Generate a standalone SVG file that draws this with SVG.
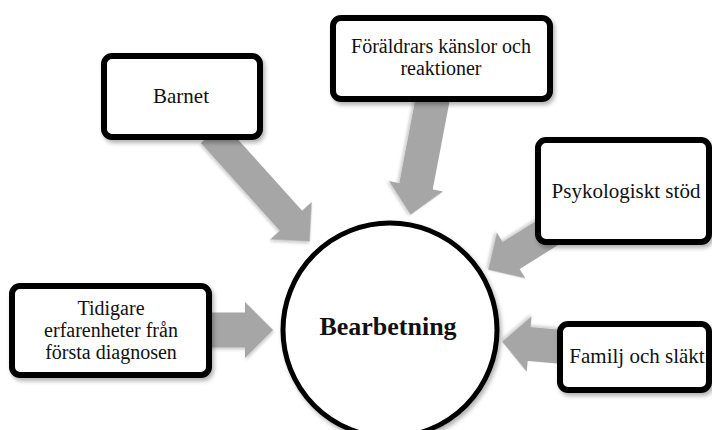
<svg xmlns="http://www.w3.org/2000/svg" width="712" height="430" viewBox="0 0 712 430">
  <style>
    .box { fill: #ffffff; stroke: #000000; stroke-width: 6; filter: url(#shadow); }
    .hub { fill: #ffffff; stroke: #000000; stroke-width: 5; filter: url(#shadow); }
    .arrow { fill: #a6a6a6; stroke: none; filter: url(#soft); }
    .label { font-family: "Liberation Serif", "Times New Roman", serif; font-size: 21px; fill: #111111; text-anchor: middle; }
    .multi { font-size: 20px; }
    .title { font-family: "Liberation Serif", "Times New Roman", serif; font-size: 26px; font-weight: bold; fill: #111111; text-anchor: middle; }
  </style>
  <defs>
    <filter id="shadow" x="-10%" y="-10%" width="125%" height="130%">
      <feDropShadow dx="2" dy="3" stdDeviation="2" flood-color="#000000" flood-opacity="0.3"/>
    </filter>
    <filter id="soft" x="-10%" y="-10%" width="125%" height="130%">
      <feDropShadow dx="1" dy="2" stdDeviation="1.5" flood-color="#000000" flood-opacity="0.2"/>
    </filter>
  </defs>

  <rect width="712" height="430" fill="#ffffff"/>

  <!-- block arrows pointing into the central circle -->
  <g id="connectors">
    <polygon class="arrow" transform="translate(212,133) rotate(48)" points="0,-15 118,-15 118,-28 146,0 118,28 118,15 0,15"/>
    <polygon class="arrow" transform="translate(434,92) rotate(100.8)" points="0,-17 96,-17 96,-27.5 125,0 96,27.5 96,17 0,17"/>
    <polygon class="arrow" transform="translate(562,223.7) rotate(148)" points="0,-16 60,-16 60,-27 87,0 60,27 60,16 0,16"/>
    <polygon class="arrow" transform="translate(200,330)" points="0,-17.5 45,-17.5 45,-28 73,0 45,28 45,17.5 0,17.5"/>
    <polygon class="arrow" transform="translate(569,347.5) rotate(185)" points="0,-17 40,-17 40,-28 67,0 40,28 40,17 0,17"/>
  </g>

  <g id="barnet">
    <rect class="box" x="104" y="56" width="156" height="81" rx="8"/>
    <text class="label" x="181" y="103">Barnet</text>
  </g>

  <g id="foraldrar">
    <rect class="box" x="333" y="18" width="217" height="81" rx="8"/>
    <text class="label multi" x="441" y="53">Föräldrars känslor och</text>
    <text class="label multi" x="441" y="75">reaktioner</text>
  </g>

  <g id="psykologiskt">
    <rect class="box" x="538" y="140" width="171" height="102" rx="8"/>
    <text class="label" x="626" y="198">Psykologiskt stöd</text>
  </g>

  <g id="tidigare">
    <rect class="box" x="12" y="286" width="197" height="89" rx="8"/>
    <text class="label multi" x="111" y="315">Tidigare</text>
    <text class="label multi" x="111" y="337">erfarenheter från</text>
    <text class="label multi" x="111" y="359">första diagnosen</text>
  </g>

  <g id="familj">
    <rect class="box" x="560" y="324" width="149" height="66" rx="8"/>
    <text class="label" x="637" y="363">Familj och släkt</text>
  </g>

  <g id="bearbetning">
    <circle class="hub" cx="390" cy="330" r="107"/>
    <text class="title" x="388" y="335">Bearbetning</text>
  </g>
</svg>
